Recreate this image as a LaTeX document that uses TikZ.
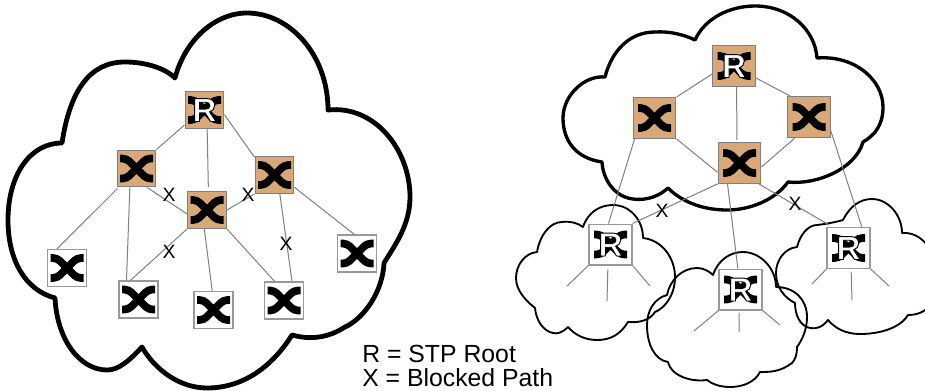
\documentclass[tikz,border=0pt]{standalone}
\usepackage{fontspec}
\setmainfont{Liberation Sans}
\definecolor{swtan}{HTML}{D8A878}
\definecolor{linkgray}{HTML}{808080}
\newcommand{\outlineR}{{\bfseries\special{pdf:code 2 Tr 0.7 w 0 G 1 g}R\special{pdf:code 0 Tr 0 g}}}
\tikzset{
  x=0.75pt,y=-0.75pt,
  cloudbig/.style={draw=black,line width=3.6pt,line join=round},
  cloudmid/.style={draw=black,line width=2.5pt,line join=round},
  cloudsmall/.style={draw=black,line width=1.4pt,line join=round},
  link/.style={draw=linkgray,line width=0.75pt},
  swbase/.style={rectangle,inner sep=0pt,minimum width=#1,minimum height=#1*0.95,
    path picture={
      \draw[black,line width=5.8pt,rounded corners=3pt]
        (-16.5,-10) -- (-10,-10) -- (10,10) -- (16.5,10)
        (-16.5,10) -- (-10,10) -- (10,-10) -- (16.5,-10);
    }},
  swcore/.style={swbase=#1,draw=linkgray,line width=0.9pt,fill=swtan},
  swedge/.style={swbase=#1,draw=linkgray!80,line width=1.1pt,fill=white},
  rtext/.style={font=\fontsize{25pt}{25pt}\selectfont,text=white,inner sep=0pt},
  xmark/.style={font=\fontsize{14.5pt}{14.5pt}\selectfont,inner sep=0pt,text=black},
  legend/.style={font=\fontsize{18.6pt}{22pt}\selectfont,anchor=base west,inner sep=0pt,text=black},
}
\begin{document}
\begin{tikzpicture}
\useasboundingbox (0,0) rectangle (925,390);
% clouds
\draw[cloudbig] (175,78) .. controls (185,40) and (215,13) .. (247,13)
  .. controls (290,13) and (328,55) .. (328,110)
  .. controls (375,105) and (410,150) .. (410,197)
  .. controls (410,225) and (395,245) .. (384,263)
  .. controls (383,290) and (365,318) .. (345,327)
  .. controls (328,338) and (310,340) .. (292,335)
  .. controls (270,370) and (240,388) .. (207,388)
  .. controls (180,388) and (155,370) .. (142,347)
  .. controls (128,362) and (118,370) .. (107,370)
  .. controls (80,370) and (57,340) .. (55,298)
  .. controls (25,290) and (8,260) .. (8,220)
  .. controls (8,175) and (30,143) .. (62,143)
  .. controls (70,90) and (90,62) .. (125,62)
  .. controls (145,62) and (165,68) .. (175,78) -- cycle;
\draw[cloudmid] (695,40) .. controls (705,18) and (730,6) .. (755,6)
  .. controls (790,6) and (815,30) .. (817,58)
  .. controls (855,55) and (883,80) .. (883,107)
  .. controls (883,125) and (875,135) .. (863,142)
  .. controls (855,170) and (815,185) .. (788,182)
  .. controls (775,200) and (750,210) .. (727,210)
  .. controls (700,210) and (680,200) .. (668,188)
  .. controls (655,200) and (640,200) .. (633,199)
  .. controls (615,197) and (603,180) .. (602,162)
  .. controls (575,158) and (563,140) .. (563,118)
  .. controls (563,95) and (585,75) .. (605,77)
  .. controls (612,50) and (630,32) .. (655,32)
  .. controls (670,31) and (685,35) .. (695,40) -- cycle;
\draw[cloudsmall] (583,227) .. controls (588,212) and (600,205) .. (613,205)
  .. controls (630,205) and (643,220) .. (643,238)
  .. controls (662,240) and (675,258) .. (675,277)
  .. controls (675,295) and (665,308) .. (655,312)
  .. controls (650,320) and (640,323) .. (628,322)
  .. controls (620,335) and (610,340) .. (597,340)
  .. controls (585,340) and (575,335) .. (568,327)
  .. controls (562,333) and (557,334) .. (553,333)
  .. controls (543,331) and (536,320) .. (535,308)
  .. controls (525,300) and (516,290) .. (516,278)
  .. controls (516,265) and (525,253) .. (537,252)
  .. controls (540,235) and (550,222) .. (562,222)
  .. controls (570,221) and (578,223) .. (583,227) -- cycle;
\draw[cloudsmall] (713,275) .. controls (718,260) and (730,252) .. (743,252)
  .. controls (760,252) and (776,268) .. (776,287)
  .. controls (795,287) and (807,300) .. (807,317)
  .. controls (807,330) and (802,340) .. (797,347)
  .. controls (797,355) and (795,360) .. (792,363)
  .. controls (780,372) and (770,372) .. (760,372)
  .. controls (755,382) and (743,387) .. (730,387)
  .. controls (720,387) and (712,384) .. (707,380)
  .. controls (695,382) and (672,378) .. (668,362)
  .. controls (655,360) and (647,345) .. (647,325)
  .. controls (647,310) and (655,298) .. (667,295)
  .. controls (670,280) and (682,268) .. (697,268)
  .. controls (703,268) and (709,271) .. (713,275) -- cycle;
\draw[cloudsmall] (843,220) .. controls (850,206) and (860,199) .. (872,199)
  .. controls (888,199) and (902,215) .. (902,233)
  .. controls (915,232) and (925,240) .. (930,250)
  (930,305) .. controls (925,312) and (917,315) .. (908,315)
  .. controls (900,328) and (880,334) .. (860,334)
  .. controls (845,334) and (835,328) .. (828,320)
  .. controls (822,328) and (815,329) .. (810,328)
  .. controls (800,326) and (795,315) .. (795,303)
  .. controls (785,298) and (776,288) .. (776,273)
  .. controls (776,260) and (785,248) .. (797,247)
  .. controls (800,235) and (808,225) .. (817,225)
  .. controls (826,224) and (836,222) .. (843,220);
% switches, left group
\node[swcore=29pt] (a0) at (204.5,110) {};
\node[rtext] (a0r) at (a0) {\outlineR};
\node[swcore=29pt] (aL) at (136.5,168.5) {};
\node[swcore=29pt] (aR) at (274.5,175) {};
\node[swcore=29pt] (aC) at (207,210) {};
\node[swedge=29pt] (a1) at (67,268) {};
\node[swedge=29pt] (a2) at (138.5,299.5) {};
\node[swedge=29pt] (a3) at (213.5,310) {};
\node[swedge=29pt] (a4) at (284,300.5) {};
\node[swedge=29pt] (a5) at (357,253.5) {};
% switches, right group
\node[swcore=32pt] (b0) at (734,66) {};
\node[rtext] (b0r) at (b0) {\outlineR};
\node[swcore=32pt] (bL) at (654.5,118) {};
\node[swcore=32pt] (bR) at (809,117) {};
\node[swcore=32pt] (bC) at (739.5,163) {};
\node[swedge=32pt] (c1) at (610.5,244.5) {};
\node[rtext] (c1r) at (c1) {\outlineR};
\node[swedge=32pt] (c2) at (740.5,289.5) {};
\node[rtext] (c2r) at (c2) {\outlineR};
\node[swedge=32pt] (c3) at (848.5,248) {};
\node[rtext] (c3r) at (c3) {\outlineR};
% free ends of stubs
\coordinate (s1a) at (567,286); \coordinate (s1b) at (607,301); \coordinate (s1c) at (650,286);
\coordinate (s2a) at (694,331); \coordinate (s2b) at (739,332); \coordinate (s2c) at (780,325);
\coordinate (s3a) at (812,284); \coordinate (s3b) at (852,300); \coordinate (s3c) at (889,286);
% links, left group
\draw[link] ([yshift=3pt]a0.south west) -- (aL.north east);
\draw[link] ([xshift=2pt]a0.south) -- ([xshift=1pt,yshift=3pt]aC.north);
\draw[link] ([yshift=-3.5pt]a0.east) -- ([yshift=-1pt]aR.north west);
\draw[link] ([xshift=.75pt,yshift=-.75pt]aL.south west) -- ([xshift=7.5pt]a1.north west);
\draw[link] ([xshift=-5pt]aL.south) -- ([xshift=-9pt]a2.north);
\draw[link] ([xshift=8pt]aL.south) -- ([yshift=-3pt]aC.west);
\draw[link] (aR.south west) -- (aC.east);
\draw[link] (aC.south west) -- ([xshift=9pt]a2.north west);
\draw[link] ([xshift=-2pt]aC.south) -- ([xshift=-1pt]a3.north);
\draw[link] (aC.south east) -- ([xshift=-7pt]a4.north);
\draw[link] ([xshift=4pt]aR.south) -- ([xshift=6pt]a4.north);
\draw[link] ([yshift=5pt]aR.south east) -- ([xshift=-2pt]a5.north);
\node[xmark] (xa1) at (169,195) {X};
\node[xmark] (xa2) at (248,195) {X};
\node[xmark] (xa3) at (169,252) {X};
\node[xmark] (xa4) at (286,244) {X};
% links, right group
\draw[link] ([yshift=-6pt]b0.west) -- (bL.north east);
\draw[link] ([xshift=2pt]b0.south) -- ([xshift=-2pt,yshift=1.5pt]bC.north);
\draw[link] ([yshift=-9pt]b0.east) -- ([xshift=2.5pt]bR.north west);
\draw[link] (bL.south east) -- ([yshift=-7pt]bC.west);
\draw[link] ([xshift=6pt]bR.south west) -- ([yshift=-3pt]bC.east);
\draw[link] ([xshift=1.5pt]bL.south west) -- ([xshift=-1.5pt]c1.north);
\draw[link] ([yshift=5pt]bR.south east) -- ([xshift=10pt]c3.north);
\draw[link] (bC.south west) -- (c1.north east);
\draw[link] ([xshift=-9pt]bC.south) -- ([xshift=-2pt]c2.north);
\draw[link] ([xshift=-2pt]bC.south east) -- ([xshift=2pt,yshift=1.5pt]c3.north west);
\draw[link] (c1.south west) -- (s1a);
\draw[link] ([xshift=-2pt,yshift=-3pt]c1.south) -- (s1b);
\draw[link] (c1.south east) -- (s1c);
\draw[link] (c2.south west) -- (s2a);
\draw[link] ([xshift=-1pt,yshift=-1.5pt]c2.south) -- (s2b);
\draw[link] (c2.south east) -- (s2c);
\draw[link] (c3.south west) -- (s3a);
\draw[link] ([xshift=2pt,yshift=-2pt]c3.south) -- (s3b);
\draw[link] (c3.south east) -- (s3c);
\node[xmark] (xb1) at (662,211) {X};
\node[xmark] (xb2) at (795,204) {X};
% legend
\node[legend] (l1) at (362,362.5) {R = STP Root};
\node[legend] (l2) at (362,386.5) {X = Blocked Path};
\end{tikzpicture}
\end{document}
